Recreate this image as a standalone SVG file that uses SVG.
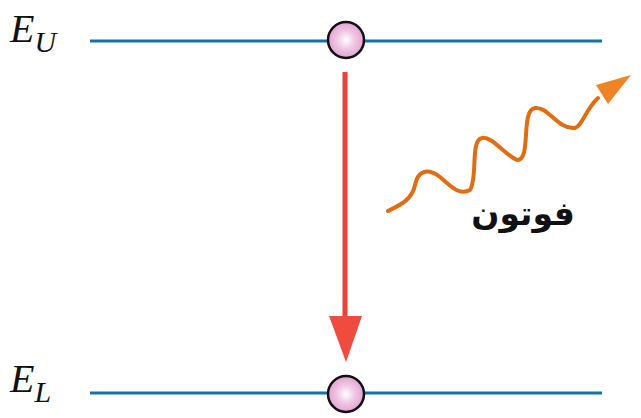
<svg xmlns="http://www.w3.org/2000/svg" width="641" height="418" viewBox="0 0 641 418">
<defs>
<radialGradient id="ball" cx="0.5" cy="0.5" r="0.5">
<stop offset="0" stop-color="#ffffff"/>
<stop offset="0.5" stop-color="#f0c6e4"/>
<stop offset="1" stop-color="#e3a3d3"/>
</radialGradient>
</defs>
<style>
.level{stroke:#1b6fa3;stroke-width:3;fill:none}
.ball{fill:url(#ball);stroke:#111;stroke-width:2.5}
.lab{font-family:"Liberation Serif",serif;font-style:italic;fill:#111}
.ar{font-family:"DejaVu Sans",sans-serif;font-weight:bold;fill:#111}
</style>
<g id="level-upper">
<line class="level" x1="90" y1="41" x2="602" y2="41"/>
<text class="lab" x="10" y="42" font-size="40">E<tspan font-size="30" dy="10">U</tspan></text>
</g>
<g id="level-lower">
<line class="level" x1="90" y1="393" x2="602" y2="393"/>
<text class="lab" x="10" y="392" font-size="40">E<tspan font-size="30" dy="10">L</tspan></text>
</g>
<g id="connectors">
<line x1="345" y1="72" x2="345" y2="330" stroke="#e8413a" stroke-width="5"/>
<path d="M329,316 L362,316 L346,362 Z" fill="#ef4b3f"/>
<path d="M388,211 C400,205 412,200 415,185 C418,170 428,168 440,177 C450,185 458,196 470,190 C478,178 470,140 482,138 C492,136 505,155 517,160 C532,160 520,110 535,108 C548,106 558,130 575,128 C583,125 585,110 598,98" fill="none" stroke="#e06d12" stroke-width="4" stroke-linecap="round"/>
<path d="M631,75 L596,85 L608,104 Z" fill="#ef8424"/>
</g>
<g id="electron-upper"><circle class="ball" cx="346" cy="40" r="18"/></g>
<g id="electron-lower"><circle class="ball" cx="346" cy="394" r="18"/></g>
<g id="photon-label">
<text class="ar" x="523" y="225" font-size="33" text-anchor="middle" direction="rtl">فوتون</text>
</g>
</svg>
